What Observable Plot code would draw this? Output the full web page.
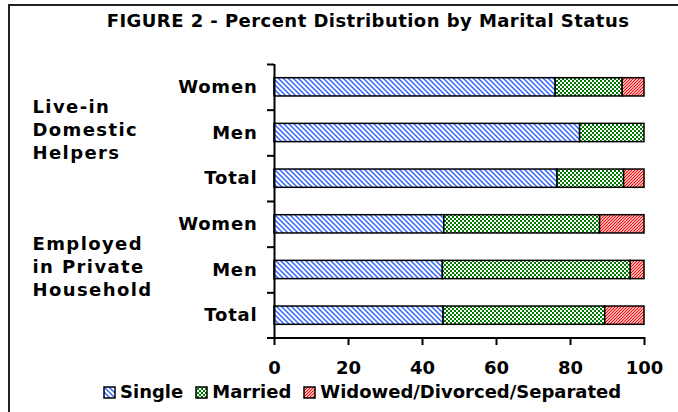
<!DOCTYPE html>
<html><head><meta charset="utf-8">
<script src="https://cdn.jsdelivr.net/npm/d3@7"></script>
<script src="https://cdn.jsdelivr.net/npm/@observablehq/plot@0.6"></script>
<style>
body{margin:0;background:#fff;font-family:"DejaVu Sans",Verdana,sans-serif;font-weight:bold;color:#000;}
#wrap{position:relative;width:678px;height:412px;overflow:hidden;}
#frame{position:absolute;left:8px;top:4px;width:700px;height:500px;border-left:2px solid #222;border-top:2px solid #222;}
#title{position:absolute;left:0;width:736px;top:12px;text-align:center;font-size:18px;line-height:18px;white-space:nowrap;letter-spacing:0.45px;}
#chart{position:absolute;left:0;top:40px;}
#legend{position:absolute;left:103px;top:383px;display:flex;align-items:center;font-size:18px;line-height:18px;white-space:nowrap;}
.item{display:flex;align-items:center;margin-right:12px;}
.item svg{margin-right:4px;}
</style></head>
<body>
<div id="wrap">
  <div id="frame"></div>
  <div id="title">FIGURE 2 - Percent Distribution by Marital Status</div>
  <div id="chart"></div>
  <div id="legend"></div>
</div>
<script>
const rows = ["LW", "LM", "LT", "EW", "EM", "ET"];
const rowLabels = ["Women", "Men", "Total", "Women", "Men", "Total"];
const statuses = ["Single", "Married", "Widowed/Divorced/Separated"];
const single = [76.0, 82.6, 76.5, 45.9, 45.5, 45.7];
const married = [18.1, 17.4, 18.0, 42.1, 50.8, 43.7];
const widowed = [5.9, 0, 5.5, 12.0, 3.7, 10.6];
const groups = ["Live-in\nDomestic\nHelpers", "Employed\nin Private\nHousehold"];
const groupRows = ["LM", "EM"];
const xTicks = [0, 20, 40, 60, 80, 100];
const patternIds = ["pSingle", "pMarried", "pWidowed"];

const data = [];
rows.forEach((r, i) => {
  [single, married, widowed].forEach((arr, j) => {
    if (arr[i] > 0) data.push({row: r, status: statuses[j], value: arr[i]});
  });
});

const H = 345, mt = 24, mb = 47;
const frameH = H - mt - mb;
const step = frameH / rows.length;

const chart = Plot.plot({
  width: 678, height: H, marginTop: mt, marginBottom: mb, marginLeft: 274, marginRight: 34,
  style: {fontFamily: "'DejaVu Sans', Verdana, sans-serif", fontWeight: "bold", fontSize: "18px", color: "black", overflow: "visible", background: "transparent"},
  x: {domain: [0, 100], axis: null},
  y: {domain: rows, paddingInner: 0.6, paddingOuter: 0.3, round: false},
  color: {domain: statuses, range: patternIds.map(id => `url(#${id})`)},
  marks: [
    Plot.barX(data, Plot.stackX({x: "value", y: "row", fill: "status", order: statuses, stroke: "black", strokeWidth: 1.5})),
    Plot.ruleX([0], {strokeWidth: 2}),
    Plot.ruleY(rows, {y: d => d, x1: 0, x2: 0, insetLeft: -7, dy: -step / 2, strokeWidth: 2}),
    Plot.ruleX(xTicks, {x: d => d, insetTop: frameH - 1, insetBottom: -7, strokeWidth: 2}),
    Plot.text(xTicks, {x: d => d, text: d => String(d), frameAnchor: "bottom", lineAnchor: "middle", dy: 30, fontSize: 18}),
    Plot.axisY({tickSize: 0, tickPadding: 17, fontSize: 18, label: null, tickFormat: r => rowLabels[rows.indexOf(r)]}),
    Plot.text(groups, {y: groupRows, frameAnchor: "left", dx: -242, textAnchor: "start", lineHeight: 1.28, dy: -4, fontSize: 18})
  ]
});

// bottom axis line, positioned from the chart's own x and y scales
const xs = chart.scale("x"), ys = chart.scale("y");
const yBottom = Math.max(...ys.range);
d3.select(chart).append("line")
  .attr("x1", xs.apply(0) - 7).attr("x2", xs.apply(100))
  .attr("y1", yBottom).attr("y2", yBottom)
  .attr("stroke", "black").attr("stroke-width", 2);

const defs = d3.select(chart).insert("defs", ":first-child");
const p1 = defs.append("pattern").attr("id", "pSingle").attr("patternUnits", "userSpaceOnUse").attr("width", 5).attr("height", 5);
p1.append("rect").attr("width", 5).attr("height", 5).attr("fill", "white");
p1.append("path").attr("d", "M0,0L5,5M-1,4L1,6M4,-1L6,1").attr("stroke", "#3366ff").attr("stroke-width", 1.5);
const p2 = defs.append("pattern").attr("id", "pMarried").attr("patternUnits", "userSpaceOnUse").attr("width", 4).attr("height", 4);
p2.append("rect").attr("width", 4).attr("height", 4).attr("fill", "white");
p2.append("rect").attr("width", 2).attr("height", 2).attr("fill", "#007a00");
p2.append("rect").attr("x", 2).attr("y", 2).attr("width", 2).attr("height", 2).attr("fill", "#007a00");
const p3 = defs.append("pattern").attr("id", "pWidowed").attr("patternUnits", "userSpaceOnUse").attr("width", 3).attr("height", 3);
p3.append("rect").attr("width", 3).attr("height", 3).attr("fill", "white");
p3.append("path").attr("d", "M0,3L3,0M-1,1L1,-1M2,4L4,2").attr("stroke", "#ff0000").attr("stroke-width", 1.2);

d3.select(chart).selectAll("g[aria-label='y-axis tick label'] text").style("letter-spacing", "0.8px");
d3.select(chart).selectAll("g[aria-label='text'] text").filter(function () { return this.querySelector("tspan"); }).style("letter-spacing", "1.4px");

document.getElementById("chart").appendChild(chart);

const legend = d3.select("#legend");
statuses.forEach((s, i) => {
  const it = legend.append("div").attr("class", "item");
  const sw = it.append("svg").attr("width", 13).attr("height", 13);
  sw.append("rect").attr("x", 1).attr("y", 1).attr("width", 11).attr("height", 11)
    .attr("fill", `url(#${patternIds[i]})`).attr("stroke", "black").attr("stroke-width", 1.5);
  it.append("span").text(s);
});
</script>
</body></html>
